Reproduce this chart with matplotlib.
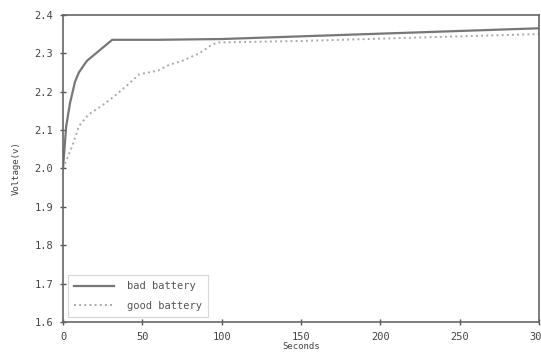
import numpy as np
import matplotlib.pyplot as plt

# readings
bad_t = [0, 2, 4.4, 7.5, 10, 15, 31, 60, 100, 200, 300]
bad_v = [2.0, 2.11, 2.17, 2.225, 2.25, 2.28, 2.335, 2.335, 2.337, 2.351, 2.365]

good_t = [0, 3, 5, 8, 10, 16, 25, 32, 40, 48, 60, 67, 75, 86, 93, 97, 150, 200, 250, 300]
good_v = [2.0, 2.03, 2.05, 2.085, 2.11, 2.14, 2.165, 2.187, 2.215, 2.245, 2.255, 2.27, 2.28, 2.30, 2.32, 2.328, 2.332, 2.338, 2.344, 2.35]

x_ticks = [0, 50, 100, 150, 200, 250, 300]
y_ticks = [1.6, 1.7, 1.8, 1.9, 2.0, 2.1, 2.2, 2.3, 2.4]

plt.rcParams['font.family'] = ['DejaVu Sans Mono']
fig = plt.figure(figsize=(5.41, 3.62), dpi=100)
ax = fig.add_axes([0.1165, 0.1105, 0.88, 0.8485])

ax.plot(bad_t, bad_v, color='#777777', lw=1.6, label='bad battery')
ax.plot(good_t, good_v, color='#aaaaaa', lw=1.4, ls=':', label='good battery')

ax.set_xlim(0, 300)
ax.set_ylim(1.6, 2.4)
ax.set_xticks(x_ticks)
ax.set_yticks(y_ticks)
ax.tick_params(direction='inout', length=4, width=1, colors='#555555', labelsize=7.5, pad=5)
for lab in ax.get_xticklabels() + ax.get_yticklabels():
    lab.set_color('#444444')
for s in ax.spines.values():
    s.set_color('#666666')
    s.set_linewidth(1.2)

ax.set_xlabel('Seconds', fontsize=6.5, color='#444444', labelpad=0)
ax.set_ylabel('Voltage(v)', fontsize=6.5, color='#444444', labelpad=10)

leg = ax.legend(loc='lower left', fontsize=7.5, frameon=True, fancybox=False,
                handlelength=3.8, handletextpad=1.2, borderpad=0.6, labelspacing=0.9)
leg.get_frame().set_edgecolor('#cccccc')
leg.get_frame().set_linewidth(0.8)
for t in leg.get_texts():
    t.set_color('#555555')

fig.savefig('out.png', dpi=100)
